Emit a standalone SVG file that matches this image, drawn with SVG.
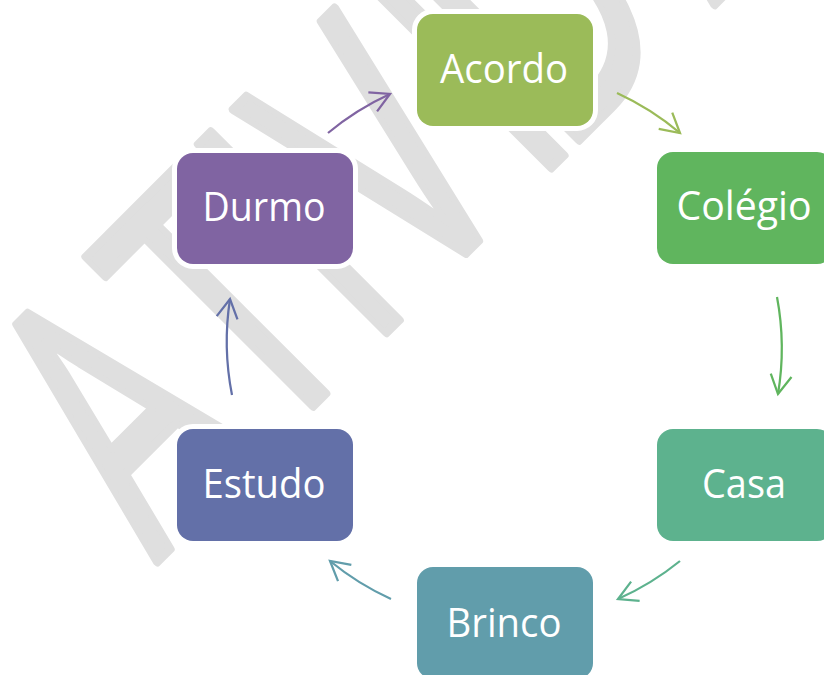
<svg xmlns="http://www.w3.org/2000/svg" width="824" height="675" viewBox="0 0 824 675">
  <style>
    .wm { font-family: "Open Sans", "Liberation Sans", sans-serif; font-size: 245px; fill: #dfdfdf; stroke: #dfdfdf; stroke-width: 6; stroke-linejoin: round; }
    .box { stroke: #ffffff; stroke-width: 10; paint-order: stroke; }
    .lbl { font-family: "Open Sans", "Liberation Sans", sans-serif; font-size: 40px; fill: #ffffff; text-anchor: middle; }
    .arc { fill: none; stroke-width: 2.25; }
    .head { fill: none; stroke-width: 2.25; stroke-linejoin: miter; }
  </style>
  <defs>
    <marker id="m1" markerUnits="userSpaceOnUse" markerWidth="30" markerHeight="30" viewBox="-25 -15 30 30" refX="0" refY="0" orient="auto"><path class="head" stroke="#9bbb59" d="M-19,-10.5 L0,0 L-19,10.5"/></marker>
    <marker id="m2" markerUnits="userSpaceOnUse" markerWidth="30" markerHeight="30" viewBox="-25 -15 30 30" refX="0" refY="0" orient="auto"><path class="head" stroke="#60b55e" d="M-19,-10.5 L0,0 L-19,10.5"/></marker>
    <marker id="m3" markerUnits="userSpaceOnUse" markerWidth="30" markerHeight="30" viewBox="-25 -15 30 30" refX="0" refY="0" orient="auto"><path class="head" stroke="#5db28e" d="M-19,-10.5 L0,0 L-19,10.5"/></marker>
    <marker id="m4" markerUnits="userSpaceOnUse" markerWidth="30" markerHeight="30" viewBox="-25 -15 30 30" refX="0" refY="0" orient="auto"><path class="head" stroke="#619dab" d="M-19,-10.5 L0,0 L-19,10.5"/></marker>
    <marker id="m5" markerUnits="userSpaceOnUse" markerWidth="30" markerHeight="30" viewBox="-25 -15 30 30" refX="0" refY="0" orient="auto"><path class="head" stroke="#6370a8" d="M-19,-10.5 L0,0 L-19,10.5"/></marker>
    <marker id="m6" markerUnits="userSpaceOnUse" markerWidth="30" markerHeight="30" viewBox="-25 -15 30 30" refX="0" refY="0" orient="auto"><path class="head" stroke="#8064a2" d="M-19,-10.5 L0,0 L-19,10.5"/></marker>
  </defs>
  <rect width="824" height="675" fill="#ffffff"/>
  <g id="watermark">
    <text class="wm" transform="translate(156,563) rotate(-45) scale(1,1.52)" x="78 231 335 447 568 662 866 1030 1180 1310" y="0" text-anchor="middle">ATIVIDADES</text>
  </g>
  <g id="connectors">
    <path class="arc" stroke="#9bbb59" marker-end="url(#m1)" d="M617,93 A277,277 0 0 1 680,133"/>
    <path class="arc" stroke="#60b55e" marker-end="url(#m2)" d="M777,297 A277,277 0 0 1 778,394"/>
    <path class="arc" stroke="#5db28e" marker-end="url(#m3)" d="M680,561 A277,277 0 0 1 618,599"/>
    <path class="arc" stroke="#619dab" marker-end="url(#m4)" d="M391,599 A277,277 0 0 1 330,561"/>
    <path class="arc" stroke="#6370a8" marker-end="url(#m5)" d="M232,395 A277,277 0 0 1 230,299"/>
    <path class="arc" stroke="#8064a2" marker-end="url(#m6)" d="M328,133 A277,277 0 0 1 390,94"/>
  </g>
  <g id="node-acordo">
    <rect class="box" x="417" y="14" width="176" height="112" rx="16" fill="#9bbb59"/>
    <text class="lbl" x="504" y="83" textLength="128" lengthAdjust="spacingAndGlyphs">Acordo</text>
  </g>
  <g id="node-colegio">
    <rect class="box" x="657" y="152" width="176" height="112" rx="16" fill="#60b55e"/>
    <text class="lbl" x="744" y="220" textLength="135" lengthAdjust="spacingAndGlyphs">Colégio</text>
  </g>
  <g id="node-casa">
    <rect class="box" x="657" y="429" width="176" height="112" rx="16" fill="#5db28e"/>
    <text class="lbl" x="744" y="498" textLength="84" lengthAdjust="spacingAndGlyphs">Casa</text>
  </g>
  <g id="node-brinco">
    <rect class="box" x="417" y="567" width="176" height="112" rx="16" fill="#619dab"/>
    <text class="lbl" x="504" y="637" textLength="115" lengthAdjust="spacingAndGlyphs">Brinco</text>
  </g>
  <g id="node-estudo">
    <rect class="box" x="177" y="429" width="176" height="112" rx="16" fill="#6370a8"/>
    <text class="lbl" x="264" y="498" textLength="123" lengthAdjust="spacingAndGlyphs">Estudo</text>
  </g>
  <g id="node-durmo">
    <rect class="box" x="177" y="153" width="176" height="111" rx="16" fill="#8064a2"/>
    <text class="lbl" x="264" y="221" textLength="123" lengthAdjust="spacingAndGlyphs">Durmo</text>
  </g>
</svg>
